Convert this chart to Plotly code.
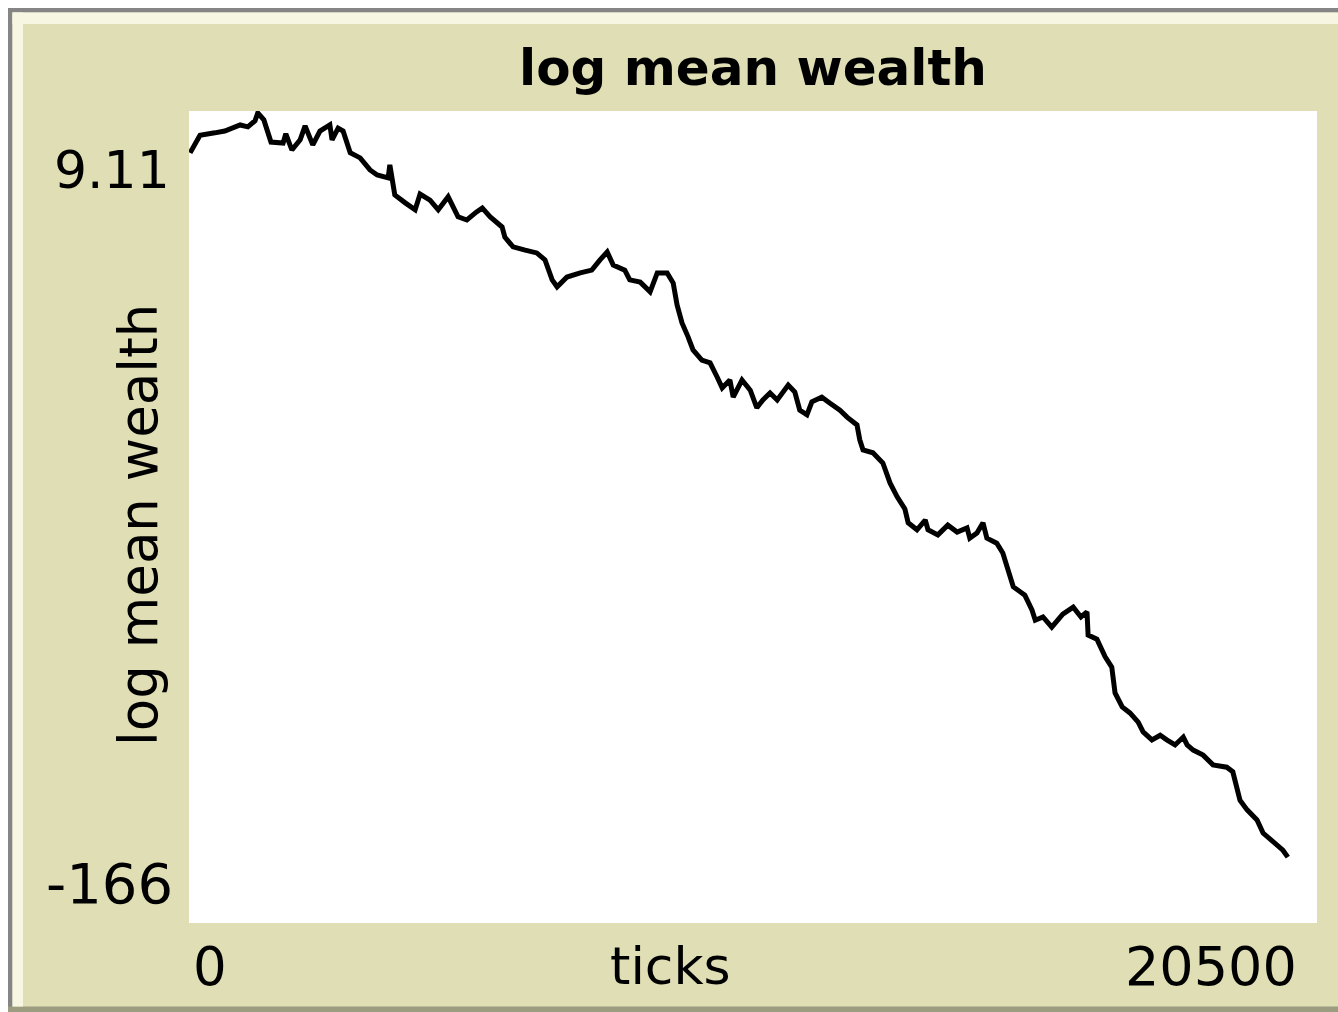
import plotly.graph_objects as go

# ---- data ----
ticks = [20, 200, 470, 650, 930, 1070, 1200, 1250, 1360, 1490, 1710, 1760, 1870, 2020, 2110, 2250,
         2380, 2560, 2600, 2710, 2800, 2930, 3110, 3290, 3420, 3620, 3650, 3740, 3930, 4110, 4200,
         4380, 4530, 4710, 4890, 5050, 5220, 5330, 5470, 5690, 5740, 5890, 6110, 6320, 6470, 6600,
         6690, 6870, 7110, 7320, 7470, 7600, 7710, 7920, 8010, 8200, 8380, 8510, 8690, 8800, 8870,
         8960, 9070, 9160, 9320, 9470, 9600, 9690, 9830, 9890, 10050, 10200, 10320, 10430, 10560,
         10690, 10890, 11010, 11100, 11230, 11320, 11500, 11650, 11830, 11960, 12140, 12190, 12250,
         12430, 12610, 12740, 12870, 13010, 13070, 13230, 13380, 13430, 13610, 13790, 13960, 14140,
         14190, 14320, 14430, 14500, 14680, 14790, 14880, 14980, 15190, 15320, 15380, 15520, 15680,
         15880, 16070, 16210, 16320, 16340, 16500, 16650, 16770, 16830, 16960, 17100, 17250, 17340,
         17500, 17650, 17770, 17920, 18070, 18140, 18250, 18430, 18610, 18860, 18970, 19050, 19100,
         19230, 19410, 19520, 19700, 19880, 19970]
log_mean_wealth = [0.1, 3.9, 4.4, 4.8, 6.1, 5.7, 7.0, 8.7, 7.2, 2.4, 2.2, 4.2, 0.7, 2.9, 5.9, 1.8,
                   4.8, 6.1, 2.9, 5.4, 4.8, 0.1, -1.0, -3.6, -4.7, -5.3, -2.5, -9.0, -10.7, -12.2, -8.8,
                   -10.1, -12.2, -9.4, -13.7, -14.4, -12.7, -11.8, -13.7, -15.9, -18.1, -20.2, -20.9,
                   -21.5, -23.0, -27.3, -28.8, -26.7, -25.8, -25.2, -23.0, -21.3, -24.1, -25.2, -27.3,
                   -27.8, -29.9, -25.8, -25.8, -28.0, -32.7, -36.6, -39.6, -42.4, -44.6, -45.2, -48.3,
                   -50.6, -48.9, -52.6, -48.9, -51.1, -54.9, -53.2, -51.7, -53.2, -50.0, -51.5, -55.4,
                   -56.4, -53.6, -52.6, -53.9, -55.4, -56.9, -58.6, -61.8, -64.0, -64.6, -66.8, -71.1,
                   -74.1, -76.7, -79.7, -81.2, -79.1, -81.2, -82.3, -80.2, -81.7, -80.8, -83.0, -81.9,
                   -79.7, -83.0, -84.1, -86.2, -89.9, -93.5, -95.3, -98.5, -100.7, -100.0, -102.2,
                   -99.4, -97.9, -100.0, -98.9, -103.9, -104.8, -108.6, -110.8, -116.4, -119.4, -120.7,
                   -122.7, -124.8, -126.5, -125.5, -126.5, -127.6, -125.9, -127.6, -128.7, -129.8,
                   -131.9, -132.4, -133.4, -136.7, -139.5, -141.6, -143.8, -146.6, -148.6, -150.3,
                   -151.8]
x_min, x_max = 0, 20500
y_min, y_max = -166, 9.11
x_tick_labels = ["0", "20500"]
y_tick_labels = ["9.11", "-166"]
title_text = "log mean wealth"
x_title = "ticks"
y_title = "log mean wealth"

# ---- layout geometry (screen pixels; body margin removed, figure fills the window) ----
SW, SH = 1338, 1012
L, R, T, B = 189, 1317, 111, 923
PW, PH = R - L, B - T
BEIGE = "#DFDEB4"
CREAM = "#F7F6E2"
GRAY = "#858585"
FONT = "DejaVu Sans"


def px(xp):
    return (xp - L) / PW


def py(yp):
    return (B - yp) / PH


fig = go.Figure()
fig.add_trace(go.Scatter(x=ticks, y=log_mean_wealth, mode="lines",
                         line=dict(color="black", width=5), hoverinfo="skip"))

shapes = []


def rect(x0, y0, x1, y1, color):
    shapes.append(dict(type="rect", xref="paper", yref="paper",
                       x0=px(x0), x1=px(x1), y0=py(y1), y1=py(y0),
                       fillcolor=color, line=dict(width=0), layer="below"))


# white surround outside the widget
rect(0, 0, SW, 8, "white")
rect(0, 0, 8, SH, "white")
# frame lines
rect(8, 8, SW, 12.5, GRAY)
rect(8, 8, 12.5, SH, GRAY)
rect(8, 1006.5, SW, SH, "#9C9C80")
# light inner bevel
rect(12.5, 12.5, SW, 24, CREAM)
rect(12.5, 12.5, 23, 1006.5, CREAM)

annotations = [
    dict(text="<b>" + title_text + "</b>", x=px(753), y=py(68),
         font=dict(size=50, family=FONT, color="black"), xanchor="center", yanchor="middle"),
    dict(text=x_title, x=px(670), y=py(966), font=dict(size=52, family=FONT, color="black"),
         xanchor="center", yanchor="middle"),
    dict(text=y_title, x=px(138), y=py(525), textangle=-90,
         font=dict(size=53, family=FONT, color="black"), xanchor="center", yanchor="middle"),
    dict(text=y_tick_labels[0], x=px(172), y=py(170), font=dict(size=52, family=FONT, color="black"),
         xanchor="right", yanchor="middle"),
    dict(text=y_tick_labels[1], x=px(175), y=py(883), font=dict(size=56, family=FONT, color="black"),
         xanchor="right", yanchor="middle"),
    dict(text=x_tick_labels[0], x=px(191), y=py(966), font=dict(size=53, family=FONT, color="black"),
         xanchor="left", yanchor="middle"),
    dict(text=x_tick_labels[1], x=px(1299), y=py(966), font=dict(size=54, family=FONT, color="black"),
         xanchor="right", yanchor="middle"),
]
for a in annotations:
    a.update(xref="paper", yref="paper", showarrow=False)

fig.update_layout(
    width=SW, height=SH,
    margin=dict(l=L, r=SW - R, t=T, b=SH - B, pad=0),
    paper_bgcolor=BEIGE, plot_bgcolor="white",
    showlegend=False,
    shapes=shapes, annotations=annotations,
    xaxis=dict(range=[x_min, x_max], showgrid=False, zeroline=False, showline=False,
               showticklabels=False, ticks=""),
    yaxis=dict(range=[y_min, y_max], showgrid=False, zeroline=False, showline=False,
               showticklabels=False, ticks=""),
)

fig.write_html("out.html",
               config={"displayModeBar": False},
               post_script="document.body.style.margin='0';"
                           "document.documentElement.style.overflow='hidden';"
                           "document.body.style.overflow='hidden';")
